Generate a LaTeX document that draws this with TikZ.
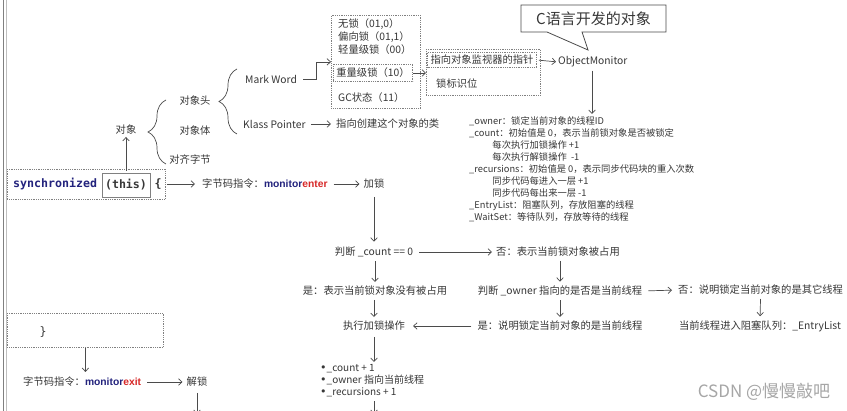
\documentclass[tikz,border=0pt]{standalone}
\usepackage{fontspec}
\setmainfont{Noto Sans CJK SC}
\setmonofont{DejaVu Sans Mono}
\newfontfamily\kwfont{Liberation Sans}
\newfontfamily\djv{DejaVu Sans}
\usetikzlibrary{arrows.meta,decorations.pathreplacing}
\definecolor{navy}{RGB}{35,35,125}
\definecolor{kwred}{RGB}{215,40,40}
\definecolor{txt}{RGB}{55,55,55}
\definecolor{ln}{RGB}{75,75,75}
\newcommand{\mon}[1]{{\kwfont\bfseries\textcolor{navy}{monitor}\textcolor{kwred}{#1}}}
\newcommand{\bul}{{\djv\fontsize{11}{12}\selectfont •}}
\begin{document}
\begin{tikzpicture}[x=1pt,y=-1pt,
  t/.style={font=\fontsize{10.3}{12}\selectfont, text=txt, inner sep=0pt},
  arr/.style={draw=ln, line width=0.7pt, -{Straight Barb[length=3.5pt,width=6.5pt]}, shorten <=4pt, shorten >=4pt},
  dbox/.style={draw=gray, densely dotted, line width=0.8pt},
  code/.style={font=\ttfamily\bfseries\fontsize{11.6}{14}\selectfont, inner sep=0pt},
  brc/.style={draw=ln, line width=0.7pt, decorate, decoration={brace, amplitude=18pt, aspect=0.5}}]
\useasboundingbox (0,0) rectangle (847,411);
\fill[white] (0,0) rectangle (847,411);
% left window edge
\draw[gray, line width=1.2pt] (3.5,0) -- (3.5,411);
\draw[gray!50, line width=0.6pt] (6.5,0) -- (6.5,411);

% object structure
\node[t] (obj) at (126,130) {对象};
\node[t] (head) at (195,101) {对象头};
\node[t] (body) at (195,131) {对象体};
\node[t] (align) at (190,160) {对齐字节};
\draw[brc] (166,164) -- (166,100);
\draw[brc] (237,134) -- (237,69);
\node[t, anchor=west] (mw) at (245,79) {Mark Word};
\node[t, anchor=west] (kp) at (243,124) {Klass Pointer};
\node[t, anchor=west] (cls) at (336,124) {指向创建这个对象的类};
\draw[arr, shorten <=5pt, shorten >=5pt] (kp.east) -- (cls.west);

% mark word box
\node[dbox, minimum width=89pt, minimum height=93pt, anchor=north west, inner sep=0pt] (box1) at (331,15) {};
\node[t, anchor=west] (s1) at (338,24) {无锁（01,0）};
\node[t, anchor=west] (s2) at (338,37) {偏向锁（01,1）};
\node[t, anchor=west] (s3) at (338,50) {轻量级锁（00）};
\node[t, dbox, inner xsep=3pt, inner ysep=4pt] (heavy) at (373,73) {重量级锁（10）};
\node[t, anchor=west] (s5) at (338,98) {GC状态（11）};
\draw[arr, shorten <=6pt, shorten >=0pt] (mw.east) -- ++(19,0) |- (box1.west);

% monitor pointer box
\node[dbox, minimum width=114pt, minimum height=46pt, anchor=north west, inner sep=0pt] (box2) at (426,49) {};
\node[t, dbox, inner xsep=3pt, inner ysep=3pt] (ptr) at (482,60) {指向对象监视器的指针};
\node[t, anchor=west] (flag) at (436,84) {锁标识位};
\draw[arr, shorten <=0pt, shorten >=0pt] (heavy.east) -- (heavy.east -| box2.west);
\node[t, anchor=west] (om) at (558,62) {ObjectMonitor};
\draw[arr, shorten <=2pt, shorten >=2pt] (ptr.east) -- (om.west);

% callout
\node[inner sep=0pt, font=\fontsize{15}{18}\selectfont, text=txt] (callout) at (593.5,18.5) {C语言开发的对象};
\draw[ln, line width=0.8pt, line join=miter] (521,5) -- (666,5) -- (666,32) -- (582,32) -- (588,50) -- (547,32) -- (521,32) -- cycle;

% monitor fields
\node[t, anchor=north west, align=left, font=\fontsize{9.3}{12}\selectfont] (info) at (469,116) {%
\_owner：锁定当前对象的线程ID\\
\_count：初始值是 0，表示当前锁对象是否被锁定\\
\hspace*{2.5em}每次执行加锁操作 +1\\
\hspace*{2.5em}每次执行解锁操作\ \ -1\\
\_recursions：初始值是 0，表示同步代码块的重入次数\\
\hspace*{2.5em}同步代码每进入一层 +1\\
\hspace*{2.5em}同步代码每出来一层 -1\\
\_EntryList：阻塞队列，存放阻塞的线程\\
\_WaitSet：等待队列，存放等待的线程};
\draw[arr, shorten <=3pt, shorten >=2pt] (om.south -| 592,0) -- (592,0 |- info.north);

% synchronized block
\node[dbox, minimum width=158pt, minimum height=30pt, anchor=north west, inner sep=0pt] (sbox) at (7,169) {};
\node[code, anchor=west, text=navy] (sync) at (13,184) {synchronized};
\node[code, draw=gray, line width=0.8pt, solid, text=txt, inner xsep=3pt, minimum height=24pt] (this) at (126,185) {(this)};
\node[code, text=txt] (lbr) at (158,184) {\{};
\draw[arr, shorten <=2pt, shorten >=2pt] (this.north) -- (obj.south);

\node[t, anchor=west] (bc1) at (202,184) {字节码指令：\mon{enter}};
\draw[arr, shorten <=1pt, shorten >=7pt] (sbox.east |- bc1.west) -- (bc1.west);
\node[t] (lock) at (374,184) {加锁};
\draw[arr, shorten <=6pt, shorten >=4pt] (bc1.east) -- (lock.west);

% flow
\node[t] (j1) at (374,252) {判断 \_count == 0};
\draw[arr, shorten <=8pt, shorten >=5pt] (lock.south) -- (j1.north);
\node[t, anchor=west] (no1) at (496,252) {否：表示当前锁对象被占用};
\draw[arr, shorten <=6pt, shorten >=4pt] (j1.east) -- (no1.west);
\node[t] (yes1) at (375,291) {是：表示当前锁对象没有被占用};
\draw[arr] (j1.south -| yes1.north) -- (yes1.north);
\node[t] (exec) at (374,326) {执行加锁操作};
\draw[arr] (exec.north |- yes1.south) -- (exec.north);
\node[t] (j2) at (560,291) {判断 \_owner 指向的是否是当前线程};
\draw[arr] (j2.north |- no1.south) -- (j2.north);
\node[t] (yes2) at (560,326) {是：说明锁定当前对象的是当前线程};
\draw[arr] (j2.south) -- (yes2.north);
\draw[arr, shorten <=6pt, shorten >=8pt] (yes2.west) -- (exec.east);
\node[t, anchor=west] (no2) at (678,290) {否：说明锁定当前对象的是其它线程};
\draw[arr, shorten <=6pt, shorten >=6pt] (j2.east) -- (no2.west);
\node[t] (el) at (760,326) {当前线程进入阻塞队列：\_EntryList};
\draw[arr] (no2.south) -- (el.north);

\node[t, anchor=north west, align=left, font=\fontsize{10}{12.2}\selectfont] (bul) at (320,364) {\bul\_count + 1\\ \bul\_owner 指向当前线程\\ \bul\_recursions + 1};
\draw[arr, shorten <=6pt, shorten >=2pt] (exec.south) -- (exec.south |- bul.north);
\coordinate (end1) at (374,414);
\draw[arr, shorten <=4pt, shorten >=0pt] (exec.south |- bul.south) -- (end1);

% closing block
\node[dbox, minimum width=156pt, minimum height=34pt, anchor=north west, inner sep=0pt] (ebox) at (7,313) {};
\node[code, text=txt, font=\ttfamily\fontsize{11.6}{14}\selectfont] (rbr) at (43,332) {\}};
\node[t, anchor=west] (bc2) at (23,382) {字节码指令：\mon{exit}};
\draw[arr, shorten <=0pt, shorten >=5pt] (ebox.south) -- (ebox.south |- bc2.north);
\node[t] (unlock) at (197,382) {解锁};
\draw[arr, shorten <=6pt, shorten >=4pt] (bc2.east) -- (unlock.west);
\coordinate (end2) at (197,414);
\draw[arr, shorten <=6pt, shorten >=0pt] (unlock.south) -- (end2);

% watermark
\node[inner sep=0pt, font=\fontsize{17}{20}\selectfont, text=gray!70] (wm) at (764,392) {CSDN @慢慢敲吧};
\end{tikzpicture}
\end{document}
